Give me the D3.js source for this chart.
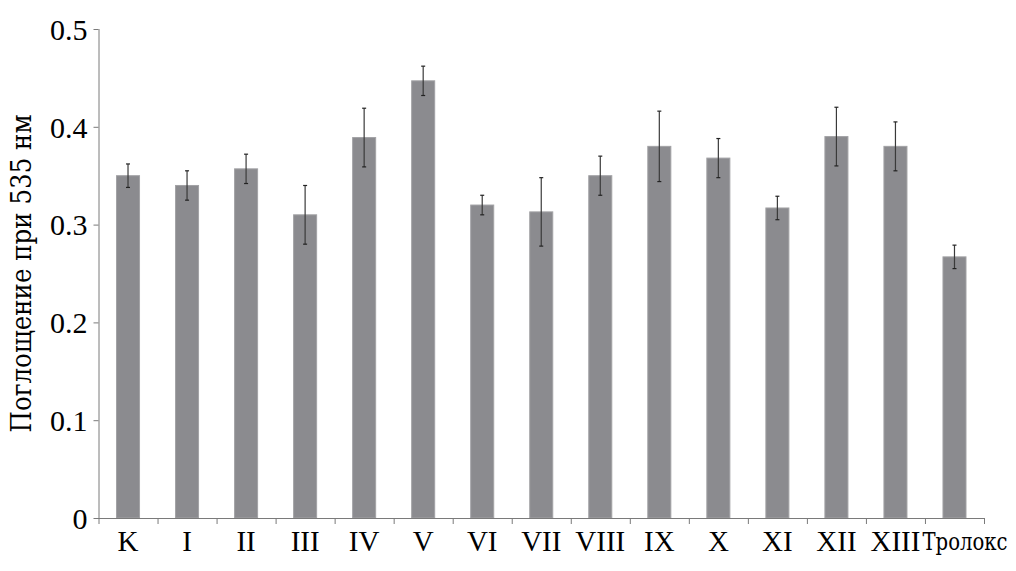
<!DOCTYPE html>
<html>
<head>
<meta charset="utf-8">
<script src="https://cdn.jsdelivr.net/npm/d3@7"></script>
<style>
  body { margin: 0; background: #fff; }
  svg { display: block; }
</style>
</head>
<body>
<svg width="1016" height="571"></svg>
<script>
// categories and values
var categories = ["K", "I", "II", "III", "IV", "V", "VI", "VII", "VIII", "IX", "X", "XI", "XII", "XIII", "Тролокс"];
var values = [0.350, 0.340, 0.357, 0.310, 0.389, 0.447, 0.320, 0.313, 0.350, 0.380, 0.368, 0.317, 0.390, 0.380, 0.267];
var errors = [0.012, 0.015, 0.015, 0.030, 0.030, 0.015, 0.010, 0.035, 0.020, 0.036, 0.020, 0.012, 0.030, 0.025, 0.012];
var yTicks = [0, 0.1, 0.2, 0.3, 0.4, 0.5];
var yLabel = "Поглощение при 535 нм";

// Liberation Serif here has no Cyrillic, so Cyrillic texts use DejaVu Serif
var serif = "'Liberation Serif', serif";
var cyr = "'DejaVu Serif', serif";

var data = categories.map(function(c, i) {
  return {name: c, value: values[i], err: errors[i]};
});

var svg = d3.select("svg"),
    margin = {top: 29, right: 32, bottom: 53, left: 98.5},
    width = +svg.attr("width") - margin.left - margin.right,
    height = +svg.attr("height") - margin.top - margin.bottom,
    g = svg.append("g")
           .attr("transform", "translate(" + margin.left + "," + margin.top + ")");

var x = d3.scaleBand()
    .domain(categories)
    .range([0, width])
    .paddingInner(0.61)
    .paddingOuter(0.305);
var y = d3.scaleLinear()
    .domain([0, 0.5])
    .range([height, 0]);

// bars
g.selectAll(".bar")
  .data(data)
  .enter().append("rect")
    .attr("class", "bar")
    .attr("x", function(d) { return x(d.name); })
    .attr("y", function(d) { return y(d.value); })
    .attr("width", x.bandwidth())
    .attr("height", function(d) { return height - y(d.value); })
    .attr("fill", "#8b8b8f")
    .attr("stroke", "#a2a2a5")
    .attr("stroke-width", 1);

// error bars
var eb = g.selectAll(".err")
  .data(data)
  .enter().append("g")
    .attr("class", "err")
    .attr("transform", function(d) { return "translate(" + (x(d.name) + x.bandwidth() / 2) + ",0)"; });
eb.append("line")
    .attr("y1", function(d) { return y(d.value + d.err); })
    .attr("y2", function(d) { return y(d.value - d.err); })
    .attr("stroke", "#3a3a3a")
    .attr("stroke-width", 1.2);
eb.append("line")
    .attr("x1", -2).attr("x2", 2)
    .attr("y1", function(d) { return y(d.value + d.err); })
    .attr("y2", function(d) { return y(d.value + d.err); })
    .attr("stroke", "#222").attr("stroke-width", 1.2);
eb.append("line")
    .attr("x1", -2).attr("x2", 2)
    .attr("y1", function(d) { return y(d.value - d.err); })
    .attr("y2", function(d) { return y(d.value - d.err); })
    .attr("stroke", "#222").attr("stroke-width", 1.2);

// y axis
var yAxis = g.append("g")
    .call(d3.axisLeft(y).tickValues(yTicks).tickSize(5).tickPadding(6)
      .tickFormat(function(d) { return d === 0 ? "0" : d3.format(".1f")(d); }));
yAxis.select(".domain").attr("stroke", "#7a7a7a").attr("d", "M0.5," + height + "V0");
yAxis.selectAll(".tick line").attr("stroke", "#7a7a7a");
yAxis.selectAll(".tick text")
    .style("font-family", serif)
    .style("font-size", "30px")
    .attr("dy", "0.34em")
    .attr("fill", "#000");

// x axis
var xAxis = g.append("g")
    .attr("transform", "translate(0," + height + ")")
    .call(d3.axisBottom(x).tickSize(0).tickPadding(12));
xAxis.select(".domain").attr("stroke", "#7a7a7a").attr("d", "M-4,0.5H" + width);
xAxis.selectAll(".tick text")
    .style("font-family", serif)
    .style("font-size", "29px")
    .attr("dy", "0.72em")
    .attr("fill", "#000");
xAxis.selectAll(".tick text")
    .filter(function(d) { return d === "Тролокс"; })
    .style("font-family", cyr)
    .style("font-size", "24px")
    .attr("dy", "0.82em")
    .attr("text-anchor", "start")
    .attr("x", -32)
    .attr("textLength", 85)
    .attr("lengthAdjust", "spacingAndGlyphs");

// boundary ticks between bands
var step = x.step();
var bounds = d3.range(categories.length + 1).map(function(i) { return i * step; });
xAxis.selectAll(".bound")
  .data(bounds)
  .enter().append("line")
    .attr("class", "bound")
    .attr("x1", function(d) { return d + 0.5; })
    .attr("x2", function(d) { return d + 0.5; })
    .attr("y1", 0).attr("y2", 6)
    .attr("stroke", "#7a7a7a");

// y label
svg.append("text")
    .attr("transform", "translate(31," + (margin.top + height / 2) + ") rotate(-90)")
    .attr("text-anchor", "middle")
    .style("font-family", cyr)
    .style("font-size", "28px")
    .attr("textLength", 318)
    .attr("lengthAdjust", "spacingAndGlyphs")
    .attr("fill", "#000")
    .text(yLabel);
</script>
</body>
</html>
